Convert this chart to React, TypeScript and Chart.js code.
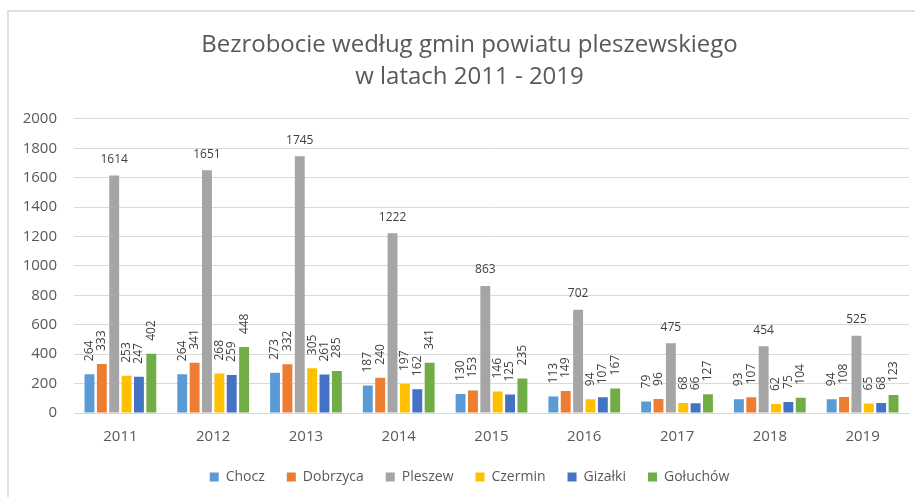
import React, { useEffect, useRef } from 'react';
import { Chart, registerables } from 'chart.js';

Chart.register(...registerables);

const years = ['2011', '2012', '2013', '2014', '2015', '2016', '2017', '2018', '2019'];
const chocz = [264, 264, 273, 187, 130, 113, 79, 93, 94];
const dobrzyca = [333, 341, 332, 240, 153, 149, 96, 107, 108];
const pleszew = [1614, 1651, 1745, 1222, 863, 702, 475, 454, 525];
const czermin = [253, 268, 305, 197, 146, 94, 68, 62, 65];
const gizalki = [247, 259, 261, 162, 125, 107, 66, 75, 68];
const goluchow = [402, 448, 285, 341, 235, 167, 127, 104, 123];

const seriesNames = ['Chocz', 'Dobrzyca', 'Pleszew', 'Czermin', 'Gizałki', 'Gołuchów'];
const seriesColors = ['#5B9BD5', '#ED7D31', '#A5A5A5', '#FFC000', '#4472C4', '#70AD47'];
const titleLines = ['Bezrobocie według gmin powiatu pleszewskiego', 'w latach 2011 - 2019'];

const FONT = '"Open Sans", "Noto Sans", sans-serif';

const framePlugin = {
  id: 'frame',
  afterLayout(chart: any) {
    // the original chart frame extends beyond the right edge; centre title & legend on it
    const shift = 15;
    if (chart.titleBlock) {
      chart.titleBlock.left += shift;
      chart.titleBlock.right += shift;
    }
    if (chart.legend) {
      chart.legend.left += shift;
      chart.legend.right += shift;
    }
  },
  beforeDraw(chart: any) {
    const ctx = chart.ctx;
    ctx.save();
    ctx.fillStyle = '#ffffff';
    ctx.fillRect(0, 0, chart.width, chart.height);
    ctx.strokeStyle = '#d6d6d6';
    ctx.lineWidth = 1.5;
    ctx.beginPath();
    ctx.moveTo(8, chart.height);
    ctx.lineTo(8, 11);
    ctx.lineTo(chart.width, 11);
    ctx.stroke();
    ctx.restore();
  },
};

const labelPlugin = {
  id: 'valueLabels',
  afterDatasetsDraw(chart: any) {
    const ctx = chart.ctx;
    ctx.save();
    ctx.font = '12px ' + FONT;
    ctx.fillStyle = '#404040';
    chart.data.datasets.forEach((ds: any, i: number) => {
      const meta = chart.getDatasetMeta(i);
      meta.data.forEach((bar: any, j: number) => {
        const txt = String(ds.data[j]);
        if (i === 2) {
          ctx.textAlign = 'center';
          ctx.textBaseline = 'middle';
          ctx.fillText(txt, bar.x, bar.y - 16);
        } else {
          ctx.save();
          ctx.translate(bar.x, bar.y - 13);
          ctx.rotate(-Math.PI / 2);
          ctx.textAlign = 'left';
          ctx.textBaseline = 'middle';
          ctx.fillText(txt, 0, 0);
          ctx.restore();
        }
      });
    });
    ctx.restore();
  },
};

export default function App() {
  const ref = useRef<HTMLCanvasElement | null>(null);
  useEffect(() => {
    if (!ref.current) return;
    const allData = [chocz, dobrzyca, pleszew, czermin, gizalki, goluchow];
    const chart = new Chart(ref.current, {
      type: 'bar',
      data: {
        labels: years,
        datasets: allData.map((d, i) => ({
          label: seriesNames[i],
          data: d,
          backgroundColor: seriesColors[i],
          borderWidth: 0,
          categoryPercentage: 0.8,
          barPercentage: 0.8,
        })),
      },
      options: {
        animation: false,
        responsive: false,
        maintainAspectRatio: false,
        layout: { padding: { left: 0, right: 6, top: 0, bottom: 3 } },
        plugins: {
          title: {
            display: true,
            text: titleLines,
            color: '#595959',
            font: { family: FONT, size: 24, weight: 'normal', lineHeight: 1.33 },
            padding: { top: 29, bottom: 26 },
          },
          legend: {
            display: true,
            position: 'bottom',
            labels: {
              color: '#595959',
              font: { family: FONT, size: 14 },
              boxWidth: 9,
              boxHeight: 9,
              padding: 22,
            },
          },
          tooltip: { enabled: false },
        },
        scales: {
          x: {
            grid: { display: false, drawTicks: false },
            border: { display: true, color: '#d9d9d9' },
            ticks: { color: '#595959', font: { family: FONT, size: 15 }, padding: 15 },
            afterFit: (scale: any) => {
              scale.height = 35;
            },
          },
          y: {
            min: 0,
            max: 2000,
            ticks: {
              stepSize: 200,
              color: '#595959',
              font: { family: FONT, size: 15 },
              padding: 17,
              callback: (v: any) => String(v),
            },
            grid: { color: '#d9d9d9', drawTicks: false },
            border: { display: false },
            afterFit: (scale: any) => {
              scale.width = 74;
            },
          },
        },
      },
      plugins: [framePlugin, labelPlugin],
    });
    return () => chart.destroy();
  }, []);
  return (
    <div style={{ position: 'fixed', left: 0, top: 0, width: 915, height: 497 }}>
      <canvas ref={ref} width={915} height={497} style={{ width: 915, height: 497 }} />
    </div>
  );
}
